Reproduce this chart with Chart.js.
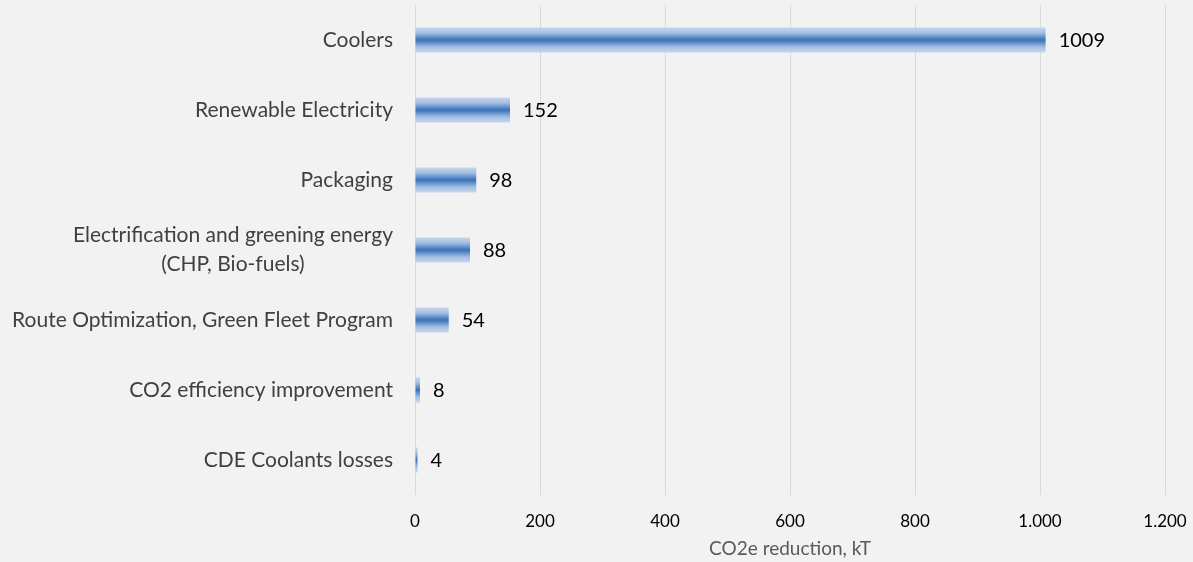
<!DOCTYPE html>
<html>
<head>
<meta charset="utf-8">
<script src="https://cdn.jsdelivr.net/npm/chart.js@4"></script>
<style>
  html, body { margin: 0; padding: 0; background: #f2f2f2; }
  #wrap { width: 1193px; height: 562px; }
</style>
</head>
<body>
<div id="wrap"><canvas id="chart" width="1193" height="562"></canvas></div>
<script>
const categories = [
    'Coolers',
    'Renewable Electricity',
    'Packaging',
    ['Electrification and greening energy', '(CHP, Bio-fuels)'],
    'Route Optimization, Green Fleet Program',
    'CO2 efficiency improvement',
    'CDE Coolants losses'
];
const reductions = [1009, 152, 98, 88, 54, 8, 4];
const xTicks = [0, 200, 400, 600, 800, 1000, 1200];

const FONT = 'Lato, "Open Sans", sans-serif';
const BAR_PCT = 0.36;

// vertical gradient per bar: light edges, dark middle
function barFill(c) {
    const chart = c.chart;
    const y = chart.scales.y;
    if (!y || c.dataIndex === undefined) return '#3570b7';
    const cy = y.getPixelForValue(c.dataIndex);
    const half = (y.height / categories.length) * BAR_PCT / 2;
    if (!isFinite(cy) || !isFinite(half) || half <= 0) return '#3570b7';
    const g = chart.ctx.createLinearGradient(0, cy - half, 0, cy + half);
    g.addColorStop(0, '#c8d8ee');
    g.addColorStop(0.22, '#a3bee3');
    g.addColorStop(0.5, '#3871b7');
    g.addColorStop(0.78, '#a3bee3');
    g.addColorStop(1, '#c8d8ee');
    return g;
}

// value labels to the right of each bar
const valueLabels = {
    id: 'valueLabels',
    afterDatasetsDraw(chart) {
        const ctx = chart.ctx;
        ctx.save();
        ctx.font = '20px ' + FONT;
        ctx.fillStyle = '#000000';
        ctx.textAlign = 'left';
        ctx.textBaseline = 'middle';
        chart.getDatasetMeta(0).data.forEach((bar, i) => {
            ctx.fillText(String(reductions[i]), bar.x + 13, bar.y + 1);
        });
        ctx.restore();
    }
};

// category labels: block right-aligned to the axis, lines centred within the block
const categoryLabels = {
    id: 'categoryLabels',
    afterDraw(chart) {
        const ctx = chart.ctx;
        const y = chart.scales.y;
        const right = chart.chartArea.left - 22;
        const lineH = 29;
        ctx.save();
        ctx.font = '21px ' + FONT;
        ctx.fillStyle = '#404040';
        ctx.textAlign = 'center';
        ctx.textBaseline = 'middle';
        categories.forEach((label, i) => {
            const lines = Array.isArray(label) ? label : [label];
            const w = Math.max(...lines.map(l => ctx.measureText(l).width));
            const cx = right - w / 2;
            const cy = y.getPixelForValue(i);
            const start = cy - (lines.length - 1) * lineH / 2;
            lines.forEach((l, k) => ctx.fillText(l, cx, start + k * lineH));
        });
        ctx.restore();
    }
};

new Chart(document.getElementById('chart'), {
    type: 'bar',
    data: {
        labels: categories,
        datasets: [{
            data: reductions,
            backgroundColor: barFill,
            borderWidth: 0,
            categoryPercentage: 1,
            barPercentage: BAR_PCT
        }]
    },
    options: {
        indexAxis: 'y',
        responsive: false,
        animation: false,
        layout: { padding: { top: 5, right: 28, bottom: 0, left: 0 } },
        plugins: {
            legend: { display: false },
            tooltip: { enabled: false }
        },
        scales: {
            x: {
                min: 0,
                max: 1200,
                afterBuildTicks: scale => { scale.ticks = xTicks.map(v => ({ value: v })); },
                afterFit: scale => {
                    scale.height = 67;
                    scale.paddingLeft = 0;
                    scale.paddingRight = 0;
                },
                grid: { color: '#d9d9d9', lineWidth: 1, drawTicks: false },
                border: { display: false },
                ticks: {
                    padding: 16,
                    color: '#000000',
                    font: { family: FONT, size: 17 },
                    callback: v => v.toLocaleString('de-DE')
                },
                title: {
                    display: true,
                    text: 'CO2e reduction, kT',
                    color: '#595959',
                    font: { family: FONT, size: 19 },
                    padding: { top: 2, bottom: 2 }
                }
            },
            y: {
                grid: { display: false, drawTicks: false },
                border: { display: false },
                ticks: { display: false },
                afterFit: scale => { scale.width = 415; }
            }
        }
    },
    plugins: [valueLabels, categoryLabels]
});
</script>
</body>
</html>
